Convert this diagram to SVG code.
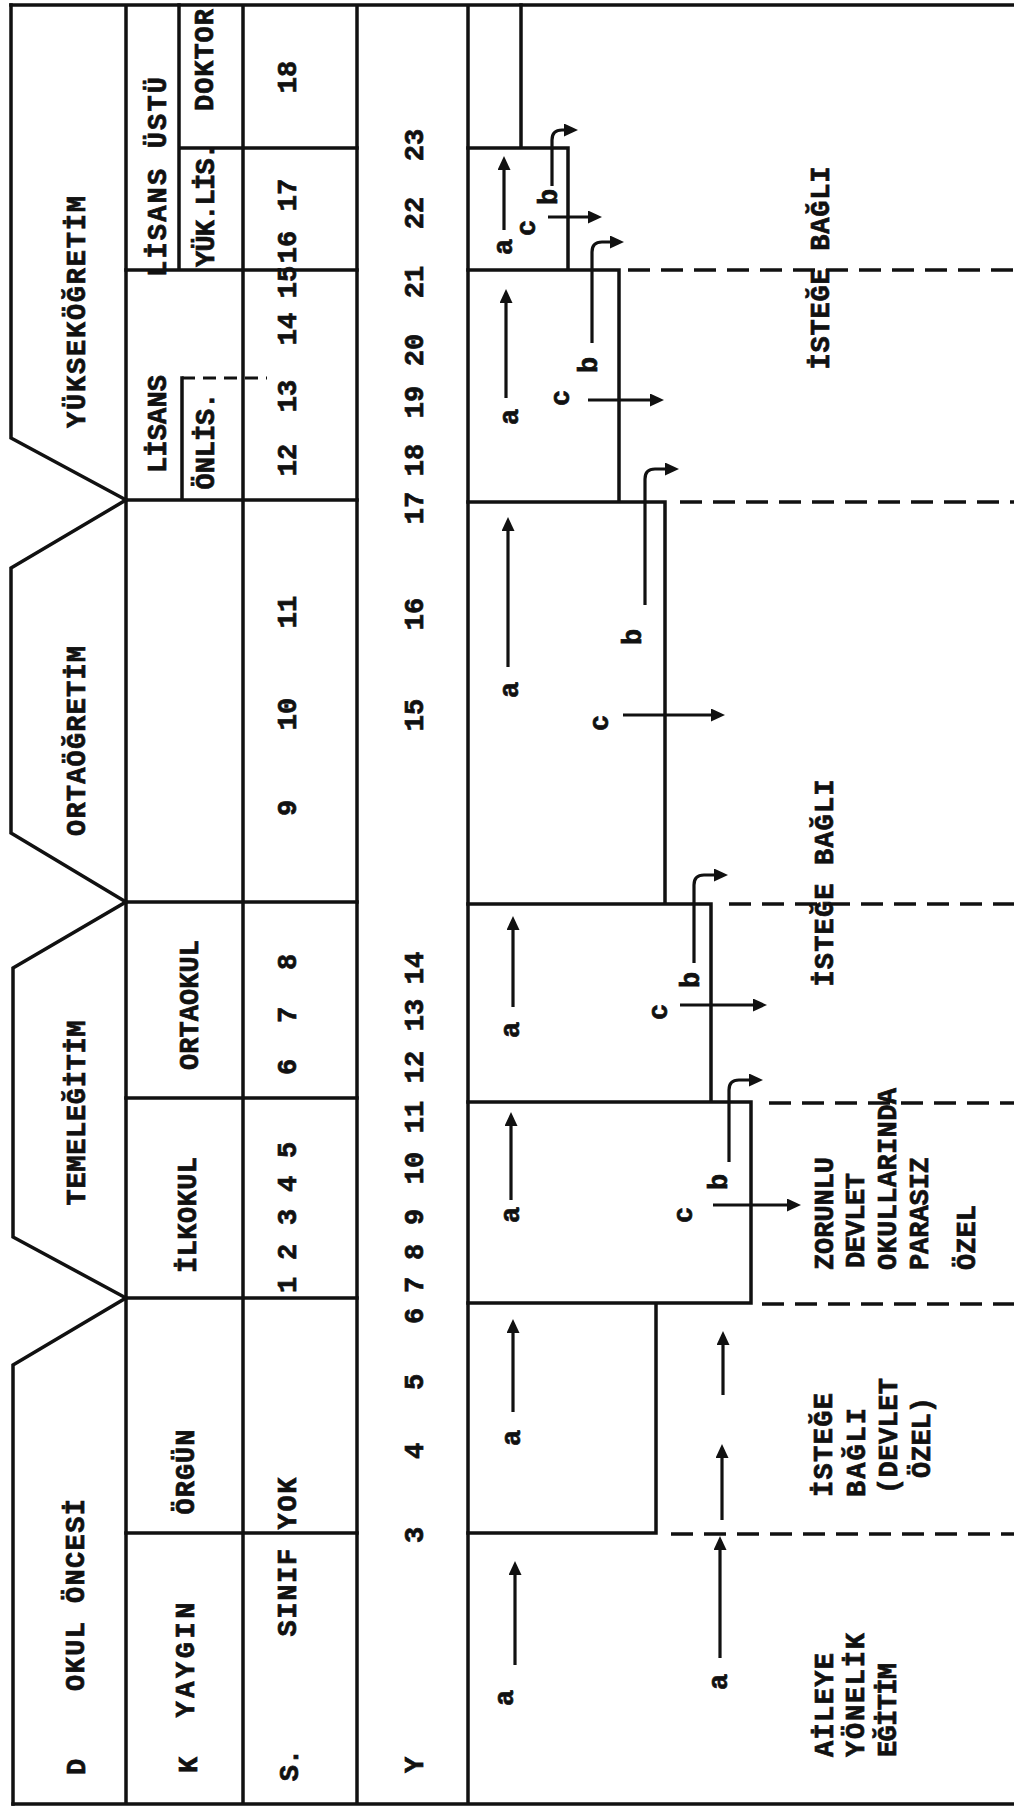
<svg xmlns="http://www.w3.org/2000/svg" width="1014" height="1808" viewBox="0 0 1014 1808">
<defs>
<style>
.ln{fill:none;stroke:#111;stroke-width:3.5;stroke-linecap:square}
.ds{fill:none;stroke:#111;stroke-width:3.5;stroke-dasharray:22 11}
.ds2{fill:none;stroke:#111;stroke-width:3;stroke-dasharray:13 8}
.ar{fill:none;stroke:#111;stroke-width:3.2;marker-end:url(#ah)}
text{font-family:"Liberation Mono","DejaVu Sans Mono",monospace;font-weight:bold;font-size:27px;fill:#111;stroke:#111;stroke-width:0.7}
.m{text-anchor:middle}
.s{text-anchor:start}
</style>
<marker id="ah" viewBox="0 0 14 13" refX="5" refY="6.5" markerWidth="14" markerHeight="13" markerUnits="userSpaceOnUse" orient="auto"><path d="M0,0 L14,6.5 L0,13 z" fill="#111"/></marker>
</defs>
<rect width="1014" height="1808" fill="#fff"/>

<g id="frame">
<path class="ln" d="M11,5 H1014 M13,1804 H1014 M126,5 V1804 M243,5 V1804 M357,5 V1804 M468,5 V1804"/>
</g>

<g id="yuksekogretim">
<path class="ln" d="M11,5 V438 L126,500"/>
<path class="ln" d="M179,5 V270 M179,148 H357 M126,270 H357 M182,378 V500 M126,500 H357"/>
<path class="ds2" d="M182,378 H267"/>
<text class="m" transform="translate(85,312) rotate(-90)" textLength="232" lengthAdjust="spacing">YÜKSEKÖĞRETİM</text>
<text class="m" transform="translate(166,177) rotate(-90)" textLength="200" lengthAdjust="spacing">LİSANS ÜSTÜ</text>
<text class="m" transform="translate(213,60) rotate(-90)" textLength="102" lengthAdjust="spacing">DOKTOR</text>
<text class="m" transform="translate(214,205) rotate(-90)" textLength="124" lengthAdjust="spacing">YÜK.LİS.</text>
<text class="m" transform="translate(166,424) rotate(-90)" textLength="98" lengthAdjust="spacing">LİSANS</text>
<text class="m" transform="translate(214,441) rotate(-90)" textLength="97" lengthAdjust="spacing">ÖNLİS.</text>
<text class="m" transform="translate(296,77) rotate(-90)">18</text>
<text class="m" transform="translate(296,195) rotate(-90)">17</text>
<text class="m" transform="translate(296,247) rotate(-90)">16</text>
<text class="m" transform="translate(296,282) rotate(-90)">15</text>
<text class="m" transform="translate(296,329) rotate(-90)">14</text>
<text class="m" transform="translate(296,396) rotate(-90)">13</text>
<text class="m" transform="translate(296,460) rotate(-90)">12</text>
</g>

<g id="ortaogretim">
<path class="ln" d="M126,500 L11,568 V833 L126,902 M126,902 H357"/>
<text class="m" transform="translate(85,741) rotate(-90)" textLength="190" lengthAdjust="spacing">ORTAÖĞRETİM</text>
<text class="m" transform="translate(296,612) rotate(-90)">11</text>
<text class="m" transform="translate(296,714) rotate(-90)">10</text>
<text class="m" transform="translate(296,808) rotate(-90)">9</text>
</g>

<g id="temelegitim">
<path class="ln" d="M126,902 L13,968 V1237 L126,1298 M126,1098 H357 M126,1298 H357"/>
<text class="m" transform="translate(85,1113) rotate(-90)" textLength="185" lengthAdjust="spacing">TEMELEĞİTİM</text>
<text class="m" transform="translate(198,1005) rotate(-90)" textLength="130" lengthAdjust="spacing">ORTAOKUL</text>
<text class="m" transform="translate(196,1215) rotate(-90)" textLength="116" lengthAdjust="spacing">İLKOKUL</text>
<text class="m" transform="translate(296,962) rotate(-90)">8</text>
<text class="m" transform="translate(296,1015) rotate(-90)">7</text>
<text class="m" transform="translate(296,1067) rotate(-90)">6</text>
<text class="m" transform="translate(296,1150) rotate(-90)">5</text>
<text class="m" transform="translate(296,1184) rotate(-90)">4</text>
<text class="m" transform="translate(296,1217) rotate(-90)">3</text>
<text class="m" transform="translate(296,1252) rotate(-90)">2</text>
<text class="m" transform="translate(296,1285) rotate(-90)">1</text>
</g>

<g id="okul-oncesi">
<path class="ln" d="M126,1298 L13,1365 V1804 M126,1533 H357"/>
<text class="m" transform="translate(84,1595) rotate(-90)" textLength="192" lengthAdjust="spacing">OKUL ÖNCESİ</text>
<text class="m" transform="translate(194,1472) rotate(-90)" textLength="85" lengthAdjust="spacing">ÖRGÜN</text>
<text class="m" transform="translate(194,1660) rotate(-90)" textLength="115" lengthAdjust="spacing">YAYGIN</text>
<text class="m" transform="translate(296,1557) rotate(-90)" textLength="159" lengthAdjust="spacing">SINIF YOK</text>
</g>

<g id="row-labels">
<text class="m" transform="translate(85,1767) rotate(-90)">D</text>
<text class="m" transform="translate(197,1765) rotate(-90)">K</text>
<text class="m" transform="translate(298,1765) rotate(-90)">S.</text>
<text class="m" transform="translate(423,1765) rotate(-90)">Y</text>
</g>

<g id="ages">
<text class="m" transform="translate(423,145) rotate(-90)">23</text>
<text class="m" transform="translate(423,213) rotate(-90)">22</text>
<text class="m" transform="translate(423,282) rotate(-90)">21</text>
<text class="m" transform="translate(423,350) rotate(-90)">20</text>
<text class="m" transform="translate(423,402) rotate(-90)">19</text>
<text class="m" transform="translate(423,460) rotate(-90)">18</text>
<text class="m" transform="translate(423,508) rotate(-90)">17</text>
<text class="m" transform="translate(423,614) rotate(-90)">16</text>
<text class="m" transform="translate(423,715) rotate(-90)">15</text>
<text class="m" transform="translate(423,968) rotate(-90)">14</text>
<text class="m" transform="translate(423,1015) rotate(-90)">13</text>
<text class="m" transform="translate(423,1067) rotate(-90)">12</text>
<text class="m" transform="translate(423,1117) rotate(-90)">11</text>
<text class="m" transform="translate(423,1168) rotate(-90)">10</text>
<text class="m" transform="translate(423,1217) rotate(-90)">9</text>
<text class="m" transform="translate(423,1252) rotate(-90)">8</text>
<text class="m" transform="translate(423,1285) rotate(-90)">7</text>
<text class="m" transform="translate(423,1316) rotate(-90)">6</text>
<text class="m" transform="translate(423,1382) rotate(-90)">5</text>
<text class="m" transform="translate(423,1451) rotate(-90)">4</text>
<text class="m" transform="translate(423,1535) rotate(-90)">3</text>
</g>

<g id="flow-boxes">
<path class="ln" d="M521,5 V148 M468,148 H568 V270 M468,270 H619 V502 M468,502 H665 V904 M468,904 H711 V1102 M468,1102 H751 V1303 M468,1303 H751 M656,1303 V1533 M468,1533 H656"/>
<path class="ds" d="M628,270 H1014 M680,502 H1014 M729,904 H1014 M769,1103 H1014 M762,1304 H1014 M671,1534 H1014"/>
</g>

<g id="connectors">
<path class="ar" d="M504,230 V165"/>
<path class="ar" d="M506,398 V298"/>
<path class="ar" d="M508,667 V526"/>
<path class="ar" d="M513,1007 V925"/>
<path class="ar" d="M511,1200 V1121"/>
<path class="ar" d="M513,1412 V1328"/>
<path class="ar" d="M723,1395 V1340"/>
<path class="ar" d="M722,1520 V1453"/>
<path class="ar" d="M515,1665 V1570"/>
<path class="ar" d="M720,1658 V1545"/>
<path class="ar" d="M548,217 H593"/>
<path class="ar" d="M588,400 H655"/>
<path class="ar" d="M623,715 H716"/>
<path class="ar" d="M680,1005 H758"/>
<path class="ar" d="M713,1205 H792"/>
<path class="ar" d="M552,186 V140 Q552,130 562,130 H569"/>
<path class="ar" d="M592,343 V252 Q592,242 602,242 H615"/>
<path class="ar" d="M645,605 V479 Q645,469 655,469 H670"/>
<path class="ar" d="M694,963 V885 Q694,875 704,875 H719"/>
<path class="ar" d="M729,1162 V1090 Q729,1080 739,1080 H754"/>
</g>

<g id="flow-labels">
<text class="m" transform="translate(512,247) rotate(-90)">a</text>
<text class="m" transform="translate(535,228) rotate(-90)">c</text>
<text class="m" transform="translate(557,197) rotate(-90)">b</text>
<text class="m" transform="translate(518,417) rotate(-90)">a</text>
<text class="m" transform="translate(569,398) rotate(-90)">c</text>
<text class="m" transform="translate(597,365) rotate(-90)">b</text>
<text class="m" transform="translate(641,637) rotate(-90)">b</text>
<text class="m" transform="translate(518,690) rotate(-90)">a</text>
<text class="m" transform="translate(608,723) rotate(-90)">c</text>
<text class="m" transform="translate(699,980) rotate(-90)">b</text>
<text class="m" transform="translate(519,1030) rotate(-90)">a</text>
<text class="m" transform="translate(667,1012) rotate(-90)">c</text>
<text class="m" transform="translate(727,1182) rotate(-90)">b</text>
<text class="m" transform="translate(519,1215) rotate(-90)">a</text>
<text class="m" transform="translate(692,1215) rotate(-90)">c</text>
<text class="m" transform="translate(520,1438) rotate(-90)">a</text>
<text class="m" transform="translate(513,1698) rotate(-90)">a</text>
<text class="m" transform="translate(727,1682) rotate(-90)">a</text>
</g>

<g id="notes">
<text class="m" transform="translate(829,268) rotate(-90)" textLength="203" lengthAdjust="spacing">İSTEĞE BAĞLI</text>
<text class="m" transform="translate(833,883) rotate(-90)" textLength="207" lengthAdjust="spacing">İSTEĞE BAĞLI</text>
<text class="s" transform="translate(833,1270) rotate(-90)" textLength="113" lengthAdjust="spacing">ZORUNLU</text>
<text class="s" transform="translate(864,1268) rotate(-90)" textLength="95" lengthAdjust="spacing">DEVLET</text>
<text class="s" transform="translate(896,1270) rotate(-90)" textLength="182" lengthAdjust="spacing">OKULLARINDA</text>
<text class="s" transform="translate(928,1270) rotate(-90)" textLength="113" lengthAdjust="spacing">PARASIZ</text>
<text class="s" transform="translate(975,1270) rotate(-90)" textLength="65" lengthAdjust="spacing">ÖZEL</text>
<text class="s" transform="translate(832,1497) rotate(-90)" textLength="104" lengthAdjust="spacing">İSTEĞE</text>
<text class="s" transform="translate(865,1497) rotate(-90)" textLength="89" lengthAdjust="spacing">BAĞLI</text>
<text class="s" transform="translate(897,1494) rotate(-90)" textLength="116" lengthAdjust="spacing">(DEVLET</text>
<text class="s" transform="translate(930,1478) rotate(-90)" textLength="81" lengthAdjust="spacing">ÖZEL)</text>
<text class="s" transform="translate(833,1757) rotate(-90)" textLength="104" lengthAdjust="spacing">AİLEYE</text>
<text class="s" transform="translate(864,1757) rotate(-90)" textLength="124" lengthAdjust="spacing">YÖNELİK</text>
<text class="s" transform="translate(896,1757) rotate(-90)" textLength="94" lengthAdjust="spacing">EĞİTİM</text>
</g>
</svg>
